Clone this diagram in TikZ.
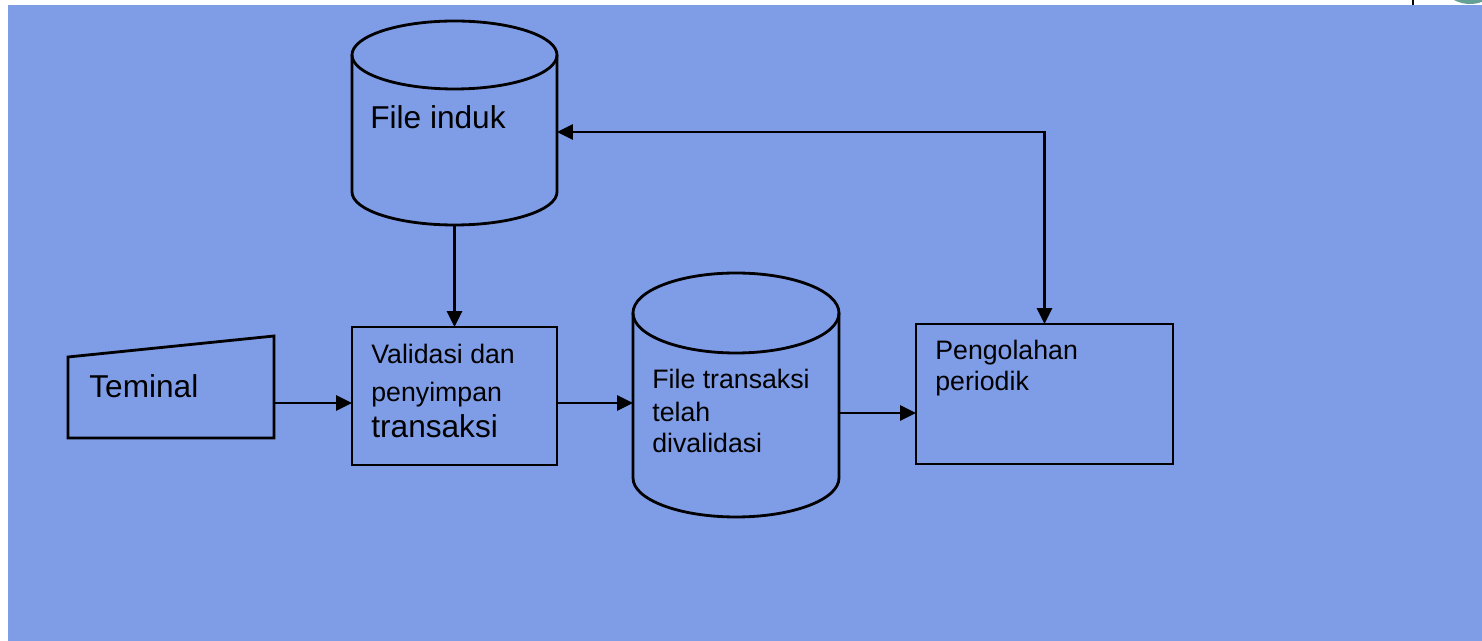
\documentclass[tikz,border=0pt]{standalone}
\usepackage{fontspec}
\setmainfont{Liberation Sans}
\usetikzlibrary{arrows.meta,calc}
\definecolor{bg}{RGB}{127,156,230}
\definecolor{tealdot}{RGB}{100,160,150}
\begin{document}
\begin{tikzpicture}[x=0.02cm,y=-0.02cm,
 shapeline/.style={line width=1.6pt},
 conn/.style={line width=1.35pt, -{Triangle[length=9pt,width=8.5pt]}},
 connboth/.style={line width=1.35pt, {Triangle[length=9pt,width=8.5pt]}-{Triangle[length=9pt,width=8.5pt]}},
 area/.style={draw=none, inner sep=0pt, outer sep=0pt},
 boxshape/.style={draw, line width=1.6pt, inner sep=0pt, outer sep=0pt},
 lbl/.style={anchor=base west, inner sep=0pt},
 fbig/.style={font=\fontsize{18}{21}\selectfont},
 fsmall/.style={font=\fontsize{15.2}{17}\selectfont},
]
\useasboundingbox (0,0) rectangle (1482,641);
\fill[white] (0,0) rectangle (1482,641);
\fill[bg] (8,5) rectangle (1482,641);
\fill[tealdot] (1470,-30) circle[radius=34];
\draw[line width=1.2pt] (1413,0) -- (1413,5);

% areas
\node[area, minimum width=4.1cm, minimum height=4.08cm] (fi) at (454.5,123) {};
\node[area, minimum width=4.12cm, minimum height=4.88cm] (ft) at (736,395) {};
\node[area, minimum width=4.12cm, minimum height=2.04cm] (tm) at (171,387) {};
\node[boxshape, minimum width=4.1cm, minimum height=2.76cm] (va) at (454.5,396) {};
\node[boxshape, minimum width=5.14cm, minimum height=2.8cm] (po) at (1044.5,394) {};

% File induk cylinder
\draw[shapeline] (454.5,55) ellipse [x radius=102.5, y radius=34];
\draw[shapeline] (352,55) -- (352,192) .. controls (352,210.2) and (397.9,225) .. (454.5,225)
  .. controls (511.1,225) and (557,210.2) .. (557,192) -- (557,55);
% File transaksi cylinder
\draw[shapeline] (736,313) ellipse [x radius=103, y radius=40];
\draw[shapeline] (633,313) -- (633,478) .. controls (633,499.5) and (679.1,517) .. (736,517)
  .. controls (792.9,517) and (839,499.5) .. (839,478) -- (839,313);
% Terminal
\draw[shapeline] (tm.south west) -- (68,357) -- (tm.north east) -- (tm.south east) -- cycle;

% texts
\node[lbl, fbig] (tfi) at (370,129) {File induk};
\node[lbl, fbig] (ttm) at (89,398) {Teminal};
\node[lbl, fsmall] (tva1) at (371,364) {Validasi dan};
\node[lbl, fsmall] (tva2) at (371,402) {penyimpan};
\node[lbl, fbig] (tva3) at (371,438) {transaksi};
\node[lbl, fsmall] (tft1) at (652,389) {File transaksi};
\node[lbl, fsmall] (tft2) at (652,422) {telah};
\node[lbl, fsmall] (tft3) at (652,453) {divalidasi};
\node[lbl, fsmall] (tpo1) at (935,360) {Pengolahan};
\node[lbl, fsmall] (tpo2) at (935,391) {periodik};

% connectors
\coordinate (r1) at (0,403);
\coordinate (r2) at (0,413);
\coordinate (r3) at (0,132);
\draw[conn] (fi.south) -- (va.north);
\draw[conn] (tm.east |- r1) -- (va.west |- r1);
\draw[conn] (va.east |- r1) -- (ft.west |- r1);
\draw[conn] (ft.east |- r2) -- (po.west |- r2);
\draw[connboth] (fi.east |- r3) -| (po.north);
\end{tikzpicture}
\end{document}
